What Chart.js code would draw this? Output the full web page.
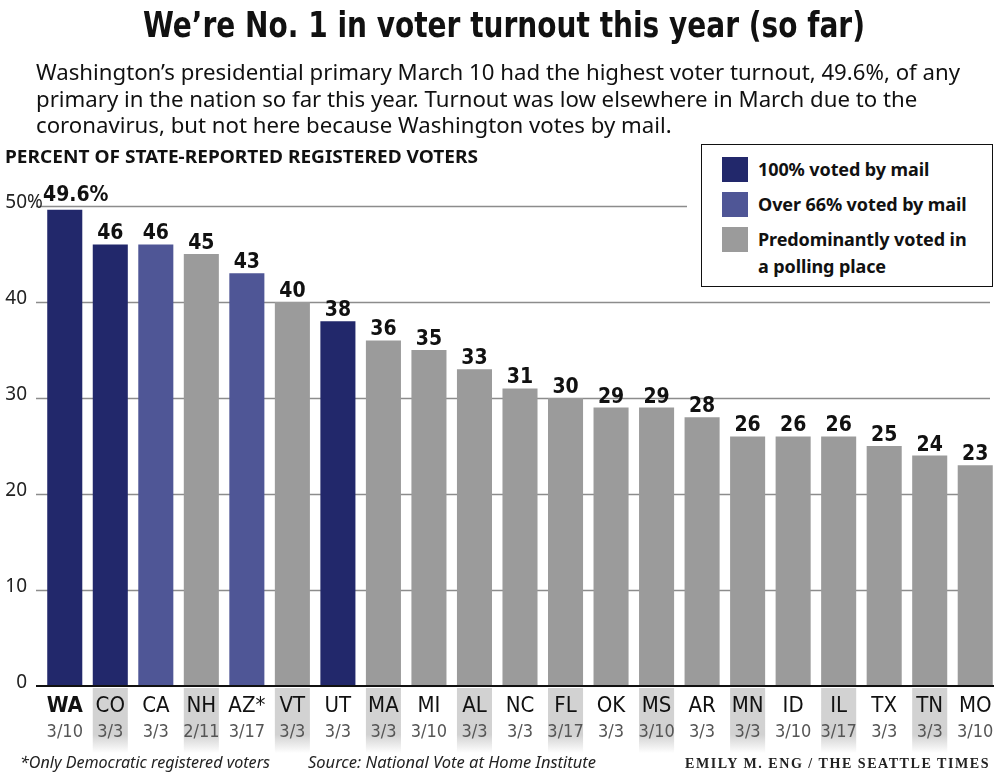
<!DOCTYPE html>
<html lang="en">
<head>
    <meta charset="UTF-8">
    <title>Voter turnout - primaries 2020</title>
    <style>
        * {
            margin: 0;
            padding: 0;
            box-sizing: border-box;
        }

        body {
            background: white;
            color: #111;
            font-family: "Noto Sans", Arial, sans-serif;
        }

        .page {
            position: relative;
            width: 1000px;
            height: 773px;
            overflow: hidden;
        }

        #chart {
            position: absolute;
            left: 0;
            top: 0;
        }

        /* Text pieces are squeezed to the reference widths by fitWidth() */
        .fit {
            position: absolute;
            white-space: nowrap;
            transform-origin: left top;
        }

        .title {
            top: 5px;
            left: 143px;
            font-family: "DejaVu Sans Condensed", "DejaVu Sans", sans-serif;
            font-weight: bold;
            font-size: 35px;
            line-height: 40px;
        }

        .intro {
            top: 58px;
            left: 36px;
            font-size: 22px;
            line-height: 26.5px;
            color: #111;
        }

        .axis-title {
            top: 145px;
            left: 5px;
            font-weight: bold;
            font-size: 18px;
            line-height: 22px;
        }

        /* Legend box (white margin hides the 50% gridline) */
        .legend-wrap {
            position: absolute;
            left: 687px;
            top: 138px;
            width: 313px;
            height: 156px;
            background: white;
            padding: 6px 7px 0 14px;
        }

        .legend {
            border: 1.5px solid #111;
            width: 292px;
            height: 143px;
            padding: 12px 0 0 20px;
        }

        .legend-item {
            display: flex;
            align-items: flex-start;
            margin-bottom: 9px;
        }

        .swatch {
            width: 26px;
            height: 25px;
            margin-right: 10px;
            flex: none;
        }

        .legend-text {
            font-weight: bold;
            font-size: 18px;
            line-height: 27px;
            margin-top: -1px;
            letter-spacing: -0.1px;
        }

        .foot {
            top: 751px;
            font-size: 16px;
            line-height: 22px;
            color: #222;
            font-style: italic;
        }

        .credit {
            top: 755px;
            left: 685px;
            font-family: "Liberation Serif", "DejaVu Serif", serif;
            font-weight: bold;
            font-size: 14px;
            line-height: 18px;
            letter-spacing: 1.5px;
            color: #222;
        }
    </style>
    <script src="https://cdn.jsdelivr.net/npm/chart.js"></script>
</head>
<body>
<div class="page">
    <canvas id="chart" width="1000" height="773"></canvas>

    <div class="fit title" data-w="722">We’re No. 1 in voter turnout this year (so far)</div>
    <div class="fit intro" data-w="924">Washington’s presidential primary March 10 had the highest voter turnout, 49.6%, of any<br>primary in the nation so far this year. Turnout was low elsewhere in March due to the<br>coronavirus, but not here because Washington votes by mail.</div>
    <div class="fit axis-title" data-w="473">PERCENT OF STATE-REPORTED REGISTERED VOTERS</div>

    <div class="legend-wrap">
        <div class="legend" id="legend"></div>
    </div>

    <div class="fit foot" style="left:20px" data-w="250">*Only Democratic registered voters</div>
    <div class="fit foot" style="left:308px" data-w="288">Source: National Vote at Home Institute</div>
    <div class="fit credit" data-w="305">EMILY M. ENG / THE SEATTLE TIMES</div>
</div>

<script>
    const states = ['WA', 'CO', 'CA', 'NH', 'AZ*', 'VT', 'UT', 'MA', 'MI', 'AL', 'NC',
                    'FL', 'OK', 'MS', 'AR', 'MN', 'ID', 'IL', 'TX', 'TN', 'MO'];
    const primaryDates = ['3/10', '3/3', '3/3', '2/11', '3/17', '3/3', '3/3', '3/3', '3/10', '3/3', '3/3',
                          '3/17', '3/3', '3/10', '3/3', '3/3', '3/10', '3/17', '3/3', '3/3', '3/10'];
    const turnout = [49.6, 46, 46, 45, 43, 40, 38, 36, 35, 33, 31,
                     30, 29, 29, 28, 26, 26, 26, 25, 24, 23];
    // 0 = 100% by mail, 1 = over 66% by mail, 2 = mostly polling place
    const voteMode = [0, 0, 1, 2, 1, 2, 0, 2, 2, 2, 2,
                      2, 2, 2, 2, 2, 2, 2, 2, 2, 2];
    const modeLabels = ['100% voted by mail', 'Over 66% voted by mail', 'Predominantly voted in<br>a polling place'];
    const modeColors = ['#22286b', '#4f5696', '#9b9b9b'];
    const yTicks = [0, 10, 20, 30, 40, 50];

    const condensed = '"DejaVu Sans Condensed", "Liberation Sans Narrow", Roboto, sans-serif';

    // Squeeze/stretch text blocks so they take the same width as in the graphic
    function fitWidth(el) {
        const target = Number(el.dataset.w);
        const w = el.getBoundingClientRect().width;
        if (w > 0) el.style.transform = 'scaleX(' + (target / w) + ')';
    }
    document.querySelectorAll('.fit').forEach(fitWidth);

    // Build legend
    const legendEl = document.getElementById('legend');
    modeLabels.forEach((label, i) => {
        const item = document.createElement('div');
        item.className = 'legend-item';
        item.innerHTML = '<div class="swatch" style="background:' + modeColors[i] + '"></div>' +
                         '<div class="legend-text">' + label + '</div>';
        legendEl.appendChild(item);
    });

    // Gridlines behind the bars, y labels on the left
    const gridPlugin = {
        id: 'grid',
        beforeDatasetsDraw(chart) {
            const ctx = chart.ctx;
            const y = chart.scales.y;
            ctx.save();
            ctx.strokeStyle = '#8c8c8c';
            ctx.lineWidth = 1.5;
            yTicks.forEach(v => {
                if (v === 0) return;
                const py = Math.round(y.getPixelForValue(v)) + 0.5;
                ctx.beginPath();
                ctx.moveTo(36, py);
                ctx.lineTo(990, py);
                ctx.stroke();
            });

            ctx.fillStyle = '#222';
            ctx.font = '19px "Noto Sans", sans-serif';
            ctx.textBaseline = 'middle';
            yTicks.forEach(v => {
                const py = y.getPixelForValue(v);
                ctx.textAlign = 'right';
                ctx.fillText(String(v), 27, py - 3);
                if (v === 50) {
                    ctx.textAlign = 'left';
                    ctx.fillText('%', 27, py - 3);
                }
            });
            ctx.restore();
        },
        afterDatasetsDraw(chart) {
            const ctx = chart.ctx;
            const x = chart.scales.x;
            const y = chart.scales.y;
            const meta = chart.getDatasetMeta(0);
            ctx.save();

            // baseline
            const y0 = y.getPixelForValue(0);
            ctx.strokeStyle = '#111';
            ctx.lineWidth = 2;
            ctx.beginPath();
            ctx.moveTo(36, y0);
            ctx.lineTo(994, y0);
            ctx.stroke();

            // value labels (WA label nudged right, clear of the 50% tick)
            ctx.fillStyle = '#111';
            ctx.textAlign = 'center';
            ctx.textBaseline = 'alphabetic';
            meta.data.forEach((bar, i) => {
                if (i === 0) {
                    ctx.font = 'bold 21px ' + condensed;
                    ctx.fillText(turnout[i] + '%', bar.x + 11, bar.y - 9);
                } else {
                    ctx.font = 'bold 21px ' + condensed;
                    ctx.fillText(String(turnout[i]), bar.x, bar.y - 5);
                }
            });

            // category labels with alternating shaded bands
            const barW = meta.data[0].width;
            states.forEach((s, i) => {
                const px = x.getPixelForValue(i);
                if (i % 2 === 1) {
                    const g = ctx.createLinearGradient(0, y0 + 2, 0, y0 + 67);
                    g.addColorStop(0, '#d2d2d2');
                    g.addColorStop(0.72, '#d2d2d2');
                    g.addColorStop(1, 'rgba(210,210,210,0)');
                    ctx.fillStyle = g;
                    ctx.fillRect(px - barW / 2, y0 + 2, barW, 65);
                }
                ctx.fillStyle = '#111';
                ctx.font = (i === 0 ? 'bold 22px ' : '22px ') + condensed;
                ctx.fillText(s, px, y0 + 26);
                ctx.fillStyle = '#555';
                ctx.font = '18px ' + condensed;
                ctx.fillText(primaryDates[i], px, y0 + 51);
            });
            ctx.restore();
        }
    };

    const chart = new Chart(document.getElementById('chart').getContext('2d'), {
        type: 'bar',
        data: {
            labels: states,
            datasets: [{
                data: turnout,
                backgroundColor: voteMode.map(m => modeColors[m]),
                borderWidth: 0,
                barPercentage: 0.77,
                categoryPercentage: 1
            }]
        },
        options: {
            responsive: false,
            animation: false,
            layout: {
                padding: { left: 42, right: 2, top: 206, bottom: 87 }
            },
            plugins: {
                legend: { display: false },
                tooltip: { enabled: false }
            },
            scales: {
                x: { display: false },
                y: { display: false, min: 0, max: 50 }
            }
        },
        plugins: [gridPlugin]
    });
</script>
</body>
</html>
